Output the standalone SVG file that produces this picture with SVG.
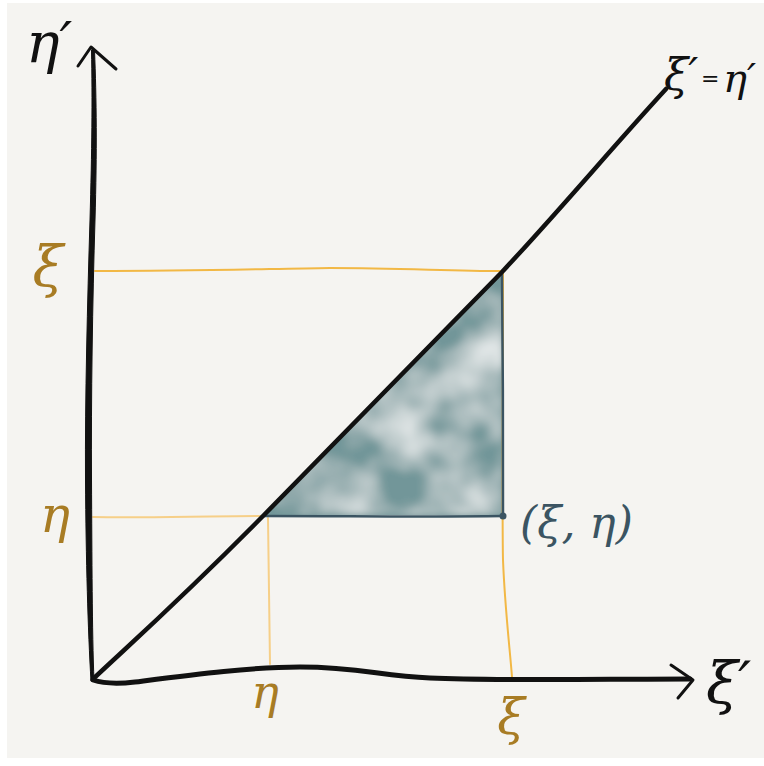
<svg xmlns="http://www.w3.org/2000/svg" width="764" height="766" viewBox="0 0 764 766">
  <defs>
    <style>
      .ink { fill: none; stroke: #111; stroke-linecap: round; stroke-linejoin: round; }
      .guide { fill: none; stroke: #f2b845; stroke-width: 2; stroke-linecap: round; }
      .guide-light { fill: none; stroke: #f6cf88; stroke-width: 2; stroke-linecap: round; }
      .lbl { font-family: "DejaVu Serif", "Liberation Serif", serif; font-style: italic; }
      .gold { fill: #a87c24; }
      .black { fill: #111; }
      .slate { fill: #3b5462; }
    </style>
    <filter id="mottle" x="0" y="0" width="1" height="1">
      <feTurbulence type="fractalNoise" baseFrequency="0.016" numOctaves="3" seed="11" result="n"/>
      <feColorMatrix in="n" type="matrix" values="0 0 0 0 1  0 0 0 0 1  0 0 0 0 1  1.5 0 0 0 -0.5" result="w"/>
      <feGaussianBlur in="w" stdDeviation="3" result="wb"/>
      <feComposite in="wb" in2="SourceGraphic" operator="in" result="wc"/>
      <feMerge><feMergeNode in="SourceGraphic"/><feMergeNode in="wc"/></feMerge>
    </filter>
  </defs>

  <rect x="0" y="0" width="764" height="766" fill="#ffffff"/>
  <rect x="7" y="3" width="757" height="755" fill="#f5f4f1"/>

  <!-- shaded region -->
  <g id="region">
    <path d="M264,515 L502,273 L503,515 Z" fill="#729699" filter="url(#mottle)"/>
  </g>

  <!-- guide lines -->
  <g id="guides">
    <path class="guide" d="M95,271 C200,271 260,269 330,268 C400,268 450,271 502,271"/>
    <path class="guide-light" d="M93,517 C150,518 200,516 263,516"/>
    <path class="guide-light" d="M268,518 C269,560 269,620 270,664"/>
    <path class="guide" d="M503,273 C503,400 502,520 503,560 C505,610 510,650 512,677"/>
  </g>

  <!-- triangle edges -->
  <g id="edges" fill="none" stroke="#3b5462" stroke-width="2.5" stroke-linecap="round">
    <path d="M264,516 C350,516 430,517 503,516"/>
    <path d="M502,273 C503,350 503,440 503,516"/>
    <circle cx="503" cy="516" r="3.5" fill="#3b5462" stroke="none"/>
  </g>

  <!-- axes & diagonal -->
  <g id="connectors">
    <path id="y-axis" fill="#111" stroke="#111" stroke-width="1" stroke-linejoin="round"
      d="M91.5,50 C92.5,100 92,150 90,220 C87.5,300 85,400 85.5,480 C86,560 88,630 91,681 L94,681 C92,630 92,560 91.5,480 C91,400 92.5,300 95,220 C97,150 96.5,100 94.5,50 Z"/>
    <path class="ink" stroke-width="3" d="M78,66 L91,47 L116,69"/>
    <path id="x-axis" class="ink" stroke-width="5"
      d="M93,680 C105,684 118,684 135,682 C190,675 250,667 300,667 C360,667 380,676 430,678 C500,681 600,679 690,679"/>
    <path class="ink" stroke-width="3" d="M671,665 L693,680 L678,698"/>
    <path id="diagonal" class="ink" stroke-width="4.5"
      d="M93,679 C140,635 180,600 264,515 L502,272 C560,210 610,150 666,89"/>
  </g>

  <!-- labels -->
  <g id="labels">
    <text class="lbl black" x="26" y="62" font-size="56">η′</text>
    <text class="lbl black" x="664" y="90" font-size="44">ξ′</text>
    <text class="lbl black" x="701" y="86" font-size="22" font-style="normal">=</text>
    <text class="lbl black" x="723" y="92" font-size="40">η′</text>
    <text class="lbl black" x="706" y="703" font-size="58">ξ′</text>
    <text class="lbl gold" x="48" y="286" font-size="56" text-anchor="middle">ξ</text>
    <text class="lbl gold" x="55" y="532" font-size="50" text-anchor="middle">η</text>
    <text class="lbl gold" x="265" y="708" font-size="46" text-anchor="middle">η</text>
    <text class="lbl gold" x="511" y="734" font-size="50" text-anchor="middle">ξ</text>
    <text class="lbl slate" x="520" y="538" font-size="44">(ξ, η)</text>
  </g>
</svg>
